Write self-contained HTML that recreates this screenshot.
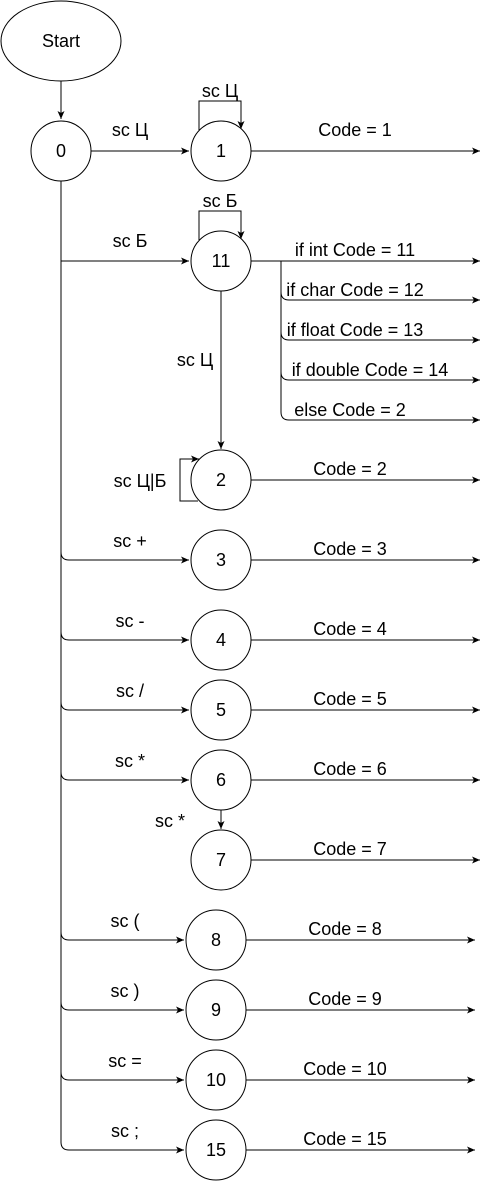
<!DOCTYPE html>
<html><head><meta charset="utf-8"><style>body{margin:0;background:#fff}svg{display:block}</style></head>
<body>
<svg width="489" height="1181" viewBox="0 0 489 1181" xmlns="http://www.w3.org/2000/svg" font-family="Liberation Sans, sans-serif" font-size="18">
<defs>
<marker id="a" markerWidth="10" markerHeight="10" refX="9" refY="5" orient="auto" markerUnits="userSpaceOnUse">
<path d="M1,1.5 L9,5 L1,8.5 L3,5 Z" fill="#000"/>
</marker>
</defs>
<g fill="none" stroke="#000" stroke-width="1">
<ellipse cx="61" cy="41" rx="60" ry="40" fill="#fff"/>
<path d="M61 81 V119" marker-end="url(#a)"/>
<circle cx="61" cy="151" r="30"/>
<path d="M61 181 V1142 Q61 1150 69 1150 H184" marker-end="url(#a)"/>
<path d="M91 151 H189" marker-end="url(#a)"/>
<path d="M61 261 H189" marker-end="url(#a)"/>
<path d="M61 552 Q61 560 69 560 H189" marker-end="url(#a)"/>
<path d="M61 632 Q61 640 69 640 H189" marker-end="url(#a)"/>
<path d="M61 702 Q61 710 69 710 H189" marker-end="url(#a)"/>
<path d="M61 772 Q61 780 69 780 H189" marker-end="url(#a)"/>
<path d="M61 932 Q61 940 69 940 H184" marker-end="url(#a)"/>
<path d="M61 1002 Q61 1010 69 1010 H184" marker-end="url(#a)"/>
<path d="M61 1072 Q61 1080 69 1080 H184" marker-end="url(#a)"/>
<circle cx="221" cy="151" r="30"/>
<circle cx="221" cy="261" r="30"/>
<circle cx="221" cy="480" r="30"/>
<circle cx="221" cy="560" r="30"/>
<circle cx="221" cy="640" r="30"/>
<circle cx="221" cy="710" r="30"/>
<circle cx="221" cy="780" r="30"/>
<circle cx="221" cy="860" r="30"/>
<circle cx="216" cy="940" r="30"/>
<circle cx="216" cy="1010" r="30"/>
<circle cx="216" cy="1080" r="30"/>
<circle cx="216" cy="1150" r="30"/>
<path d="M199 130 V101 H241 V129" marker-end="url(#a)"/>
<path d="M199 240 V211 H241 V239" marker-end="url(#a)"/>
<path d="M198 501 H180 V459 H199" marker-end="url(#a)"/>
<path d="M221 291 V449" marker-end="url(#a)"/>
<path d="M221 810 V829" marker-end="url(#a)"/>
<path d="M251 151 H480" marker-end="url(#a)"/>
<path d="M251 261 H480" marker-end="url(#a)"/>
<path d="M281 261 V412 Q281 420 289 420 H480" marker-end="url(#a)"/>
<path d="M281 292 Q281 300 289 300 H480" marker-end="url(#a)"/>
<path d="M281 332 Q281 340 289 340 H480" marker-end="url(#a)"/>
<path d="M281 372 Q281 380 289 380 H480" marker-end="url(#a)"/>
<path d="M251 480 H480" marker-end="url(#a)"/>
<path d="M251 560 H480" marker-end="url(#a)"/>
<path d="M251 640 H480" marker-end="url(#a)"/>
<path d="M251 710 H480" marker-end="url(#a)"/>
<path d="M251 780 H480" marker-end="url(#a)"/>
<path d="M251 860 H480" marker-end="url(#a)"/>
<path d="M246 940 H475" marker-end="url(#a)"/>
<path d="M246 1010 H475" marker-end="url(#a)"/>
<path d="M246 1080 H475" marker-end="url(#a)"/>
<path d="M246 1150 H475" marker-end="url(#a)"/>
</g>
<g fill="#000" text-anchor="middle">
<text x="61" y="47">Start</text>
<text x="61" y="157">0</text>
<text x="221" y="157">1</text>
<text x="221" y="267">11</text>
<text x="221" y="486">2</text>
<text x="221" y="566">3</text>
<text x="221" y="646">4</text>
<text x="221" y="716">5</text>
<text x="221" y="786">6</text>
<text x="221" y="866">7</text>
<text x="216" y="946">8</text>
<text x="216" y="1016">9</text>
<text x="216" y="1086">10</text>
<text x="216" y="1156">15</text>
<text x="130" y="136">sc Ц</text>
<text x="220" y="97">sc Ц</text>
<text x="130" y="247">sc Б</text>
<text x="220" y="207">sc Б</text>
<text x="195" y="366">sc Ц</text>
<text x="140" y="487">sc Ц|Б</text>
<text x="130" y="547">sc +</text>
<text x="130" y="627">sc -</text>
<text x="130" y="697">sc /</text>
<text x="130" y="767">sc *</text>
<text x="170" y="827">sc *</text>
<text x="125" y="927">sc (</text>
<text x="125" y="997">sc )</text>
<text x="125" y="1067">sc =</text>
<text x="125" y="1137">sc ;</text>
<text x="355" y="136">Code = 1</text>
<text x="355" y="256">if int Code = 11</text>
<text x="355" y="296">if char Code = 12</text>
<text x="355" y="336">if float Code = 13</text>
<text x="370" y="376">if double Code = 14</text>
<text x="350" y="416">else Code = 2</text>
<text x="350" y="475">Code = 2</text>
<text x="350" y="555">Code = 3</text>
<text x="350" y="635">Code = 4</text>
<text x="350" y="705">Code = 5</text>
<text x="350" y="775">Code = 6</text>
<text x="350" y="855">Code = 7</text>
<text x="345" y="935">Code = 8</text>
<text x="345" y="1005">Code = 9</text>
<text x="345" y="1075">Code = 10</text>
<text x="345" y="1145">Code = 15</text>
</g>
</svg>
</body></html>
